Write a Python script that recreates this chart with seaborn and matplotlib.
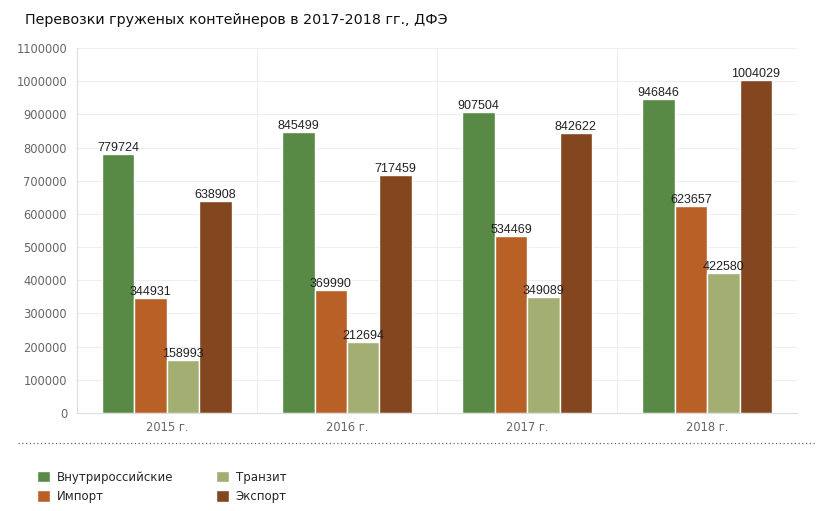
import pandas as pd
import numpy as np
import matplotlib.pyplot as plt
import seaborn as sns
from matplotlib.patches import Patch
from matplotlib.lines import Line2D

years = ["2015 г.", "2016 г.", "2017 г.", "2018 г."]
series = ["Внутрироссийские", "Импорт", "Транзит", "Экспорт"]
domestic = [779724, 845499, 907504, 946846]
imports = [344931, 369990, 534469, 623657]
transit = [158993, 212694, 349089, 422580]
exports = [638908, 717459, 842622, 1004029]
colors = ["#588a46", "#b86026", "#a3ae72", "#84461e"]

df = pd.DataFrame({
    "year": years * 4,
    "type": np.repeat(series, 4),
    "value": domestic + imports + transit + exports,
})

sns.set_style("white")
plt.rcParams["font.family"] = ["DejaVu Sans"]

fig = plt.figure(figsize=(8.17, 5.11), dpi=100)
ax = fig.add_axes([0.094, 0.192, 0.882, 0.714])

sns.barplot(data=df, x="year", y="value", hue="type", hue_order=series,
            palette=colors, saturation=1, width=0.72, edgecolor="white",
            linewidth=1, ax=ax, legend=False)

for cont in ax.containers:
    ax.bar_label(cont, fmt="%d", fontsize=9, color="#222222",
                 family="Liberation Sans", padding=0)

ax.set_ylim(0, 1100000)
ax.set_xlim(-0.5, 3.5)
ax.set_yticks(np.arange(0, 1100001, 100000))
ax.set_yticklabels([str(v) for v in range(0, 1100001, 100000)])
ax.tick_params(axis="y", labelsize=8.3, colors="#666666", length=4, color="#dddddd", pad=3)
ax.tick_params(axis="x", labelsize=8.3, colors="#666666", length=0, pad=6)
ax.set_xlabel("")
ax.set_ylabel("")

# grid lines
ax.set_xticks([-0.5, 0.5, 1.5, 2.5, 3.5], minor=True)
ax.grid(True, axis="y", color="#eeeeee", linewidth=0.8)
ax.grid(True, axis="x", which="minor", color="#eeeeee", linewidth=0.8)
ax.tick_params(axis="x", which="minor", length=6, color="#dddddd")
ax.set_axisbelow(True)
for s in ["top", "right"]:
    ax.spines[s].set_visible(False)
ax.spines["left"].set_color("#dddddd")
ax.spines["bottom"].set_color("#dddddd")

fig.text(25 / 817, 1 - 20 / 511, "Перевозки груженых контейнеров в 2017-2018 гг., ДФЭ",
         fontsize=10.3, color="#111111", va="center", ha="left")

fig.add_artist(Line2D([18 / 817, 1.0], [1 - 443 / 511, 1 - 443 / 511],
                      color="#666666", linestyle=(0, (1, 2)), linewidth=0.9))

handles = [Patch(facecolor=c, label=s) for c, s in zip(colors, series)]
fig.legend(handles, series,
           loc="upper left", bbox_to_anchor=(26 / 817, 1 - 460 / 511),
           ncol=2, frameon=False, fontsize=8.5, handlelength=1.1,
           handleheight=1.1, columnspacing=3.6, labelspacing=0.55,
           handletextpad=0.6)

fig.savefig("out.png", dpi=100)
